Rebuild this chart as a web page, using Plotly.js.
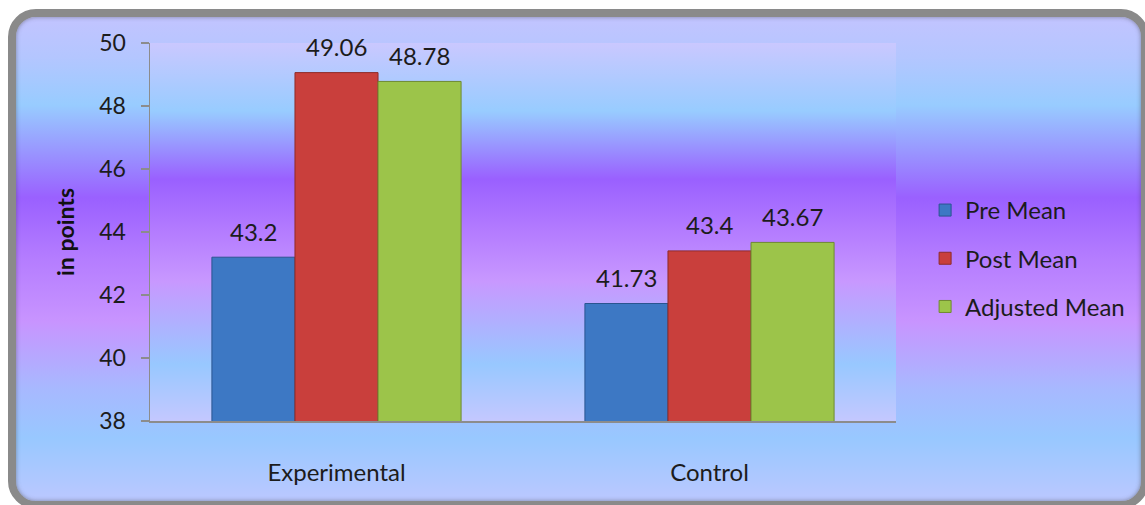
<!DOCTYPE html>
<html>
<head>
<meta charset="utf-8">
<script src="https://cdn.plot.ly/plotly-3.0.1.min.js"></script>
<style>
  html, body { margin: 0; padding: 0; background: #ffffff; overflow: hidden; }
  #wrap { position: relative; width: 1145px; height: 505px; overflow: hidden; }
  #frame {
    position: absolute; left: 8px; top: 9px; width: 1141px; height: 500px;
    box-sizing: border-box; border: 8px solid #8a8a8a; border-radius: 28px;
    background: linear-gradient(to bottom,
      #c2c4ff 0px, #b4c6ff 40px, #98ccff 88px, #9a60ff 181px,
      #b47cff 240px, #c894ff 304px, #a8b8ff 370px, #98c8ff 421px, #c4c8ff 500px);
    box-shadow: inset 0 0 4px rgba(60,60,60,0.5);
  }
  #plotbg {
    position: absolute; left: 150px; top: 43px; width: 746px; height: 378px;
    background: linear-gradient(to bottom,
      #cac8ff 0%, #98ccff 18%, #9a60ff 36%, #b47cff 50%, #c898ff 63%, #98c8ff 85%, #c4c8ff 100%);
  }
  #chart { position: absolute; left: 0; top: 0; width: 1145px; height: 505px; }
</style>
</head>
<body>
<div id="wrap">
  <div id="frame"></div>
  <div id="plotbg"></div>
  <div id="chart"></div>
</div>
<script>
const categories = ["Experimental", "Control"];
const seriesNames = ["Pre Mean", "Post Mean", "Adjusted Mean"];
const preMean = [43.2, 41.73];
const postMean = [49.06, 43.4];
const adjustedMean = [48.78, 43.67];
const valueLabels = [["43.2", "41.73"], ["49.06", "43.4"], ["48.78", "43.67"]];
const yTicks = [38, 40, 42, 44, 46, 48, 50];

const seriesValues = [preMean, postMean, adjustedMean];
const fills = ["#3d78c4", "#c93f3c", "#9cc44a"];
const edges = ["#2a5590", "#8e2c2a", "#6e8a30"];
const FONT = "Lato, 'Open Sans', sans-serif";

const traces = seriesValues.map((vals, i) => ({
  type: "bar",
  name: seriesNames[i],
  x: categories,
  y: vals,
  legendgroup: "g" + i,
  marker: { color: fills[i], line: { color: edges[i], width: 1 } },
  hoverinfo: "skip"
}));

const barPx = 83;
const annotations = [];
seriesValues.forEach((vals, i) => {
  vals.forEach((v, j) => {
    annotations.push({
      x: categories[j], y: v, xref: "x", yref: "y",
      text: valueLabels[i][j], showarrow: false,
      xshift: (i - 1) * barPx, yshift: 26, yanchor: "middle",
      font: { family: FONT, size: 24, color: "#1c1c1c" }
    });
  });
});

const layout = {
  width: 1145, height: 505,
  margin: { l: 150, r: 249, t: 43, b: 84 },
  paper_bgcolor: "rgba(0,0,0,0)",
  plot_bgcolor: "rgba(0,0,0,0)",
  barmode: "group",
  bargap: 0.332,
  bargroupgap: 0,
  showlegend: true,
  legend: {
    x: 1.039, xanchor: "left", y: 0.43, yanchor: "middle",
    traceorder: "grouped", tracegroupgap: 14,
    bgcolor: "rgba(0,0,0,0)",
    font: { family: FONT, size: 24, color: "#1c1c1c" }
  },
  xaxis: {
    type: "category",
    showline: true, linecolor: "#8c8c8c", linewidth: 1.5,
    ticks: "", showgrid: false, zeroline: false,
    ticklabelstandoff: 30,
    tickfont: { family: FONT, size: 24, color: "#1c1c1c" }
  },
  yaxis: {
    range: [38, 50],
    tickvals: yTicks,
    ticktext: yTicks.map(String),
    showline: true, linecolor: "#8c8c8c", linewidth: 1.5,
    ticks: "outside", ticklen: 8, tickcolor: "#8c8c8c", tickwidth: 1.5,
    showgrid: false, zeroline: false,
    ticklabelstandoff: 10,
    tickfont: { family: FONT, size: 23, color: "#1c1c1c" },
    title: { text: "in points", standoff: 18, font: { family: FONT, size: 23, color: "#111111", weight: "bold" } }
  },
  annotations: annotations
};

Plotly.newPlot("chart", traces, layout, { displayModeBar: false, staticPlot: true });
</script>
</body>
</html>
